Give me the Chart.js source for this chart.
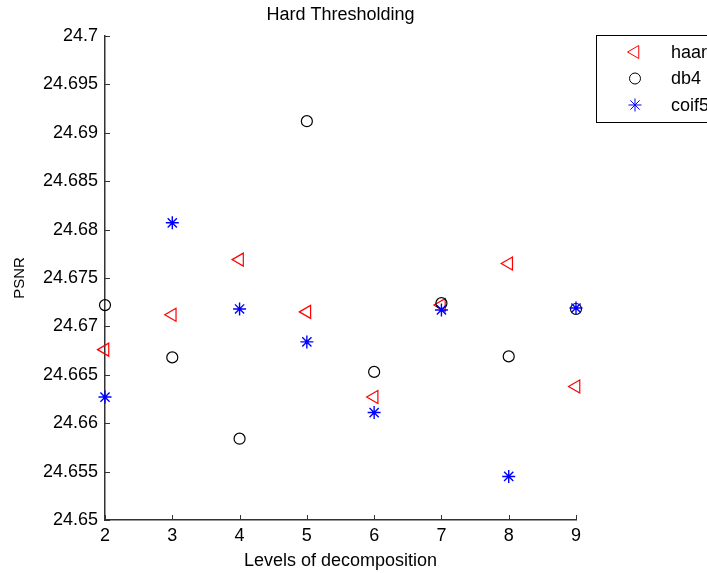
<!DOCTYPE html>
<html>
<head>
<meta charset="utf-8">
<script src="https://cdn.jsdelivr.net/npm/chart.js@4"></script>
<style>
  html, body { margin: 0; padding: 0; background: #fff; }
  #wrap { width: 707px; height: 573px; }
</style>
</head>
<body>
<div id="wrap"><canvas id="grafica" width="707" height="573"></canvas></div>
<script>
// levels of decomposition and PSNR per wavelet
const niveles = [2, 3, 4, 5, 6, 7, 8, 9];
const haar  = [24.6676, 24.6712, 24.6769, 24.6715, 24.6627, 24.6722, 24.6765, 24.6638];
const db4   = [24.6722, 24.6668, 24.6584, 24.6912, 24.6653, 24.6724, 24.6669, 24.6718];
const coif5 = [24.6627, 24.6807, 24.6718, 24.6684, 24.6611, 24.6717, 24.6545, 24.6719];
const etiquetas = ["haar", "db4", "coif5"];
const titulo_grafica = "Hard Thresholding";

function puntos(valores) {
    return niveles.map((n, i) => ({ x: n, y: valores[i] }))
}

const fuente = "'Liberation Sans', Arial, sans-serif";
Chart.defaults.font.family = fuente;
Chart.defaults.font.size = 18;
Chart.defaults.color = "#000";

// MATLAB style: inward ticks, title, boxed legend
const estilo_matlab = {
    id: "estilo_matlab",
    afterDraw(chart) {
        const ctx = chart.ctx, area = chart.chartArea
        const sx = chart.scales.x, sy = chart.scales.y
        ctx.save()
        ctx.strokeStyle = "#333"
        ctx.lineWidth = 1
        sy.ticks.forEach((t, i) => {
            const y = Math.round(sy.getPixelForTick(i)) + 0.5
            ctx.beginPath(); ctx.moveTo(area.left, y); ctx.lineTo(area.left + 5, y); ctx.stroke()
        })
        sx.ticks.forEach((t, i) => {
            const x = Math.round(sx.getPixelForTick(i)) + 0.5
            ctx.beginPath(); ctx.moveTo(x, area.bottom); ctx.lineTo(x, area.bottom - 5); ctx.stroke()
        })
        // title
        ctx.fillStyle = "#000"
        ctx.font = "18px " + fuente
        ctx.textAlign = "center"
        ctx.textBaseline = "middle"
        ctx.fillText(titulo_grafica, (area.left + area.right) / 2, 15)
        // legend
        ctx.lineWidth = 1
        ctx.strokeStyle = "#000"
        ctx.fillStyle = "#fff"
        ctx.fillRect(596.5, 35.5, 120, 87)
        ctx.strokeRect(596.5, 35.5, 120, 87)
        chart.data.datasets.forEach((ds, i) => {
            const y = 52 + i * 26.5
            ctx.strokeStyle = ds.borderColor
            ctx.fillStyle = "rgba(0,0,0,0)"
            Chart.helpers.drawPoint(ctx, {
                pointStyle: ds.pointStyle, radius: ds.pointRadius,
                rotation: ds.rotation || 0, borderWidth: ds.borderWidth
            }, 635, y)
            ctx.fillStyle = "#000"
            ctx.textAlign = "left"
            ctx.fillText(ds.label, 671, y + 1)
        })
        ctx.restore()
    }
}

const carga = {
    type: "scatter",
    data: {
        datasets: [{
            label: etiquetas[0], data: puntos(haar), order: 3, clip: false,
            pointStyle: "triangle", rotation: -90, pointRadius: 7.5,
            borderColor: "rgb(255,0,0)", backgroundColor: "rgba(0,0,0,0)", borderWidth: 1.2
        }, {
            label: etiquetas[1], data: puntos(db4), order: 2, clip: false,
            pointStyle: "circle", pointRadius: 5.5,
            borderColor: "#000", backgroundColor: "rgba(0,0,0,0)", borderWidth: 1.2
        }, {
            label: etiquetas[2], data: puntos(coif5), order: 1, clip: false,
            pointStyle: "star", pointRadius: 6.5,
            borderColor: "rgb(0,0,255)", backgroundColor: "rgba(0,0,0,0)", borderWidth: 1.4
        }]
    },
    options: {
        responsive: false,
        animation: false,
        layout: { padding: { top: 36, right: 131, left: 0, bottom: 0 } },
        plugins: { legend: { display: false }, tooltip: { enabled: false }, title: { display: false } },
        scales: {
            x: {
                type: "linear", min: 2, max: 9,
                ticks: { stepSize: 1, padding: 5, color: "#000", maxRotation: 0 },
                grid: { display: false, drawTicks: false },
                border: { display: true, color: "#333", width: 1.5 },
                title: { display: true, text: "Levels of decomposition", color: "#000", padding: { top: 0, bottom: 1 } },
                afterFit(scale) { scale.height = 53 }
            },
            y: {
                min: 24.65, max: 24.7,
                ticks: {
                    stepSize: 0.005, padding: 7, color: "#000",
                    callback: v => String(+v.toFixed(3))
                },
                grid: { display: false, drawTicks: false },
                border: { display: true, color: "#333", width: 1.5 },
                title: { display: true, text: "PSNR", color: "#000", font: { size: 15 }, padding: { top: 11, bottom: 0 } },
                afterFit(scale) { scale.width = 105 }
            }
        }
    },
    plugins: [estilo_matlab]
};

const grafica = new Chart(document.getElementById("grafica"), carga);
</script>
</body>
</html>
